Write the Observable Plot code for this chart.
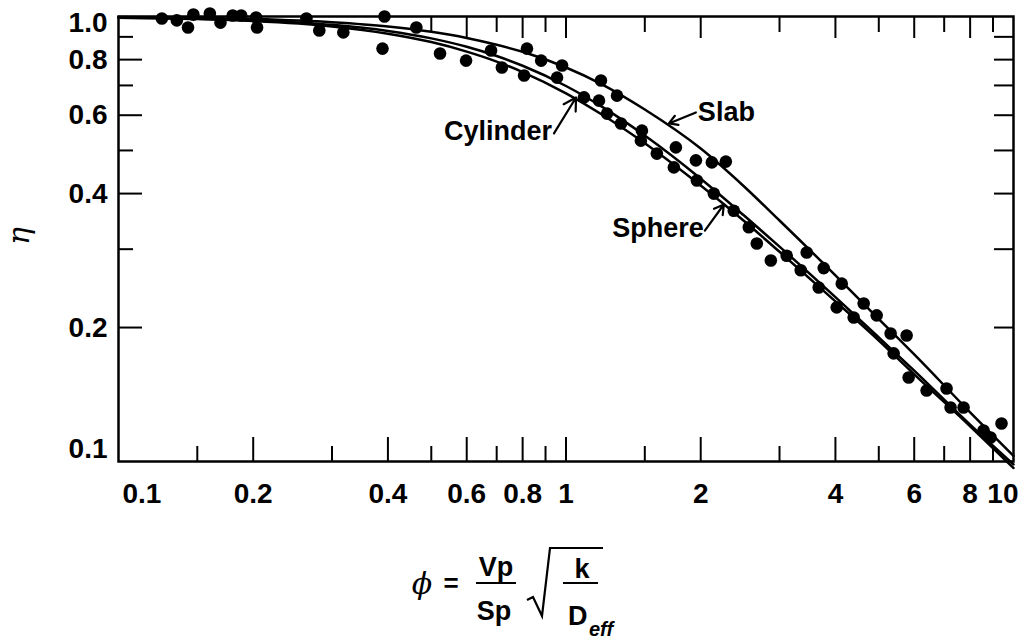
<!DOCTYPE html>
<html><head><meta charset="utf-8">
<script src="https://cdn.jsdelivr.net/npm/d3@7"></script>
<script src="https://cdn.jsdelivr.net/npm/@observablehq/plot@0.6"></script>
<style>
body{margin:0;background:#fff;}
#chart svg{display:block}
</style></head><body><div id="chart"></div>
<script>
// Theoretical effectiveness-factor curves
const phiCurve = [0.1,0.15,0.2,0.3,0.4,0.5,0.6,0.7,0.8,1.0,1.2,1.5,2,2.5,3,4,5,6,8,10];
const etaSlab = [0.997,0.993,0.987,0.971,0.950,0.924,0.895,0.864,0.833,0.768,0.705,0.618,0.505,0.415,0.348,0.262,0.209,0.174,0.129,0.103];
const etaCylinder = [0.995,0.989,0.980,0.958,0.928,0.893,0.855,0.815,0.775,0.698,0.628,0.540,0.432,0.357,0.304,0.234,0.190,0.160,0.121,0.0985];
const etaSphere = [0.994,0.987,0.977,0.950,0.915,0.876,0.834,0.792,0.750,0.672,0.603,0.519,0.417,0.347,0.296,0.229,0.187,0.157,0.120,0.0967];

// Experimental points
const phiObs = [0.125,0.135,0.143,0.147,0.160,0.169,0.180,0.188,0.203,0.204,0.263,0.281,0.318,0.393,0.389,0.463,0.523,0.598,0.680,0.719,0.806,0.818,0.880,0.955,0.980,1.097,1.197,1.185,1.300,1.235,1.327,1.478,1.470,1.596,1.742,1.760,1.951,1.961,2.140,2.118,2.276,2.371,2.562,2.669,2.869,3.113,3.451,3.347,3.766,3.670,4.132,4.027,4.626,4.394,4.946,5.314,5.770,5.397,5.830,6.395,7.086,7.234,7.734,8.571,9.402,8.887];
const etaObs = [0.990,0.980,0.945,1.010,1.016,0.969,1.005,1.005,0.995,0.945,0.990,0.930,0.921,1.000,0.847,0.945,0.826,0.796,0.839,0.768,0.737,0.847,0.796,0.729,0.776,0.658,0.718,0.647,0.664,0.605,0.575,0.554,0.526,0.492,0.458,0.508,0.475,0.428,0.400,0.470,0.472,0.366,0.336,0.309,0.283,0.290,0.295,0.269,0.272,0.246,0.251,0.222,0.2265,0.2107,0.2130,0.194,0.192,0.175,0.1545,0.1444,0.1459,0.1322,0.1322,0.1174,0.1217,0.1132];

// Ticks and tick labels
const xLabelTicks = [0.1,0.2,0.4,0.6,0.8,1,2,4,6,8,10];
const xLabels = ["0.1","0.2","0.4","0.6","0.8","1","2","4","6","8","10"];
const xMajorTicks = [0.2,0.4,0.6,0.8,1,2,4,6,8];
const xMinorTicks = [0.15,0.3,0.5,0.7,0.9,1.5,3,5,7,9];
const yLabelTicks = [0.1,0.2,0.4,0.6,0.8,1.0];
const yLabels = ["0.1","0.2","0.4","0.6","0.8","1.0"];
const yMajorTicks = [0.2,0.4,0.6,0.8];
const yMinorTicks = [0.3,0.5,0.7,0.9];

// Curve annotations
const annoNames = ["Slab","Cylinder","Sphere"];
const annoX = [1.971,0.931,2.033];
const annoY = [0.6085,0.5515,0.334];
const arrowX1 = [1.951,0.940,2.043];
const arrowY1 = [0.6085,0.546,0.3304];
const arrowX2 = [1.698,1.053,2.253];
const arrowY2 = [0.575,0.6576,0.378];

const curves = [];
phiCurve.forEach((p,i)=>{
  curves.push({phi:p, eta:etaSlab[i], shape:"Slab"});
  curves.push({phi:p, eta:etaCylinder[i], shape:"Cylinder"});
  curves.push({phi:p, eta:etaSphere[i], shape:"Sphere"});
});
const obs = phiObs.map((p,i)=>({phi:p, eta:etaObs[i]}));
const annos = annoNames.map((n,i)=>({name:n, x:annoX[i], y:annoY[i], x1:arrowX1[i], y1:arrowY1[i], x2:arrowX2[i], y2:arrowY2[i]}));
const xLab = d => xLabels[xLabelTicks.indexOf(d)];
const yLab = d => yLabels[yLabelTicks.indexOf(d)];
const blank = () => "";
const first = a => [a[0]];
const last = a => [a[a.length - 1]];
const mid = a => a.slice(1, -1);

const chart = Plot.plot({
  width: 1024, height: 520,
  marginLeft: 118, marginRight: 11, marginTop: 16, marginBottom: 59,
  x: {type: "log", domain: [0.1, 10]},
  y: {type: "log", domain: [0.1, 1]},
  style: {fontFamily: "'Liberation Sans', Arial, sans-serif", fontSize: "27px", fontWeight: "bold", color: "black", background: "white", overflow: "visible"},
  marks: [
    // tick marks (inward)
    Plot.axisX(xMajorTicks, {anchor: "bottom", tickSize: -24, tickFormat: blank, strokeWidth: 2, label: null}),
    Plot.axisX(xMinorTicks, {anchor: "bottom", tickSize: -15, tickFormat: blank, strokeWidth: 2, label: null}),
    Plot.axisX(xMajorTicks.filter(d => d >= 0.6), {anchor: "top", tickSize: -21, tickFormat: blank, strokeWidth: 2, label: null}),
    Plot.axisX(xMinorTicks.filter(d => d >= 0.5), {anchor: "top", tickSize: -15, tickFormat: blank, strokeWidth: 2, label: null}),
    Plot.axisY(yMajorTicks, {anchor: "left", tickSize: -24, tickFormat: blank, strokeWidth: 2, label: null}),
    Plot.axisY(yMinorTicks, {anchor: "left", tickSize: -15, tickFormat: blank, strokeWidth: 2, label: null}),
    Plot.axisY(yMajorTicks.concat(yMinorTicks), {anchor: "right", tickSize: -20, tickFormat: blank, strokeWidth: 2, label: null}),
    // tick labels
    Plot.text(mid(xLabelTicks), {x: d => d, text: xLab, frameAnchor: "bottom", lineAnchor: "top", dy: 22, fontSize: 28}),
    Plot.text(first(xLabelTicks), {x: d => d, text: xLab, frameAnchor: "bottom", lineAnchor: "top", dy: 22, dx: 4, textAnchor: "start", fontSize: 28}),
    Plot.text(last(xLabelTicks), {x: d => d, text: xLab, frameAnchor: "bottom", lineAnchor: "top", dy: 22, dx: 5, textAnchor: "end", fontSize: 28}),
    Plot.text(mid(yLabelTicks), {y: d => d, text: yLab, frameAnchor: "left", textAnchor: "end", dx: -11, fontSize: 28}),
    Plot.text(first(yLabelTicks), {y: d => d, text: yLab, frameAnchor: "left", textAnchor: "end", dx: -11, dy: -12, fontSize: 28}),
    Plot.text(last(yLabelTicks), {y: d => d, text: yLab, frameAnchor: "left", textAnchor: "end", dx: -11, dy: 7, fontSize: 28}),
    Plot.text(["η"], {text: d => d, frameAnchor: "left", dx: -99, dy: 6, rotate: -90, fontStyle: "italic", fontFamily: "'DejaVu Serif', serif", fontSize: 30, fontWeight: "normal"}),
    // curves
    Plot.line(curves, {x: "phi", y: "eta", z: "shape", stroke: "black", strokeWidth: 2.5, curve: "monotone-x"}),
    // data points
    Plot.dot(obs, {x: "phi", y: "eta", r: 6.3, fill: "black", stroke: null}),
    // annotations
    Plot.arrow(annos, {x1: "x1", y1: "y1", x2: "x2", y2: "y2", stroke: "black", strokeWidth: 2.2, headLength: 10}),
    Plot.text(annos.filter(d => d.name === "Slab"), {x: "x", y: "y", text: "name", textAnchor: "start"}),
    Plot.text(annos.filter(d => d.name !== "Slab"), {x: "x", y: "y", text: "name", textAnchor: "end"}),
    Plot.frame({stroke: "black", strokeWidth: 2.5})
  ]
});
document.getElementById("chart").append(chart);

// x-axis label: phi = Vp/Sp * sqrt(k/D_eff)
const ns = "http://www.w3.org/2000/svg";
const cap = document.createElementNS(ns, "svg");
cap.setAttribute("width", 1024); cap.setAttribute("height", 121);
cap.style.display = "block";
cap.innerHTML = `
<g font-family="'Liberation Sans', Arial, sans-serif" font-weight="bold" fill="black">
  <text x="422" y="74" text-anchor="middle" font-family="'DejaVu Serif', serif" font-style="italic" font-weight="normal" font-size="30">ϕ</text>
  <text x="451" y="72" text-anchor="middle" font-size="26">=</text>
  <text x="496" y="56" text-anchor="middle" font-size="27">Vp</text>
  <line x1="476" x2="516" y1="63" y2="63" stroke="black" stroke-width="2"/>
  <text x="494" y="100" text-anchor="middle" font-size="27">Sp</text>
  <path d="M527 80 L533 77 L542 96 L550 28 L603 28" fill="none" stroke="black" stroke-width="2.2"/>
  <text x="582" y="58" text-anchor="middle" font-size="27">k</text>
  <line x1="563" x2="598" y1="63" y2="63" stroke="black" stroke-width="2"/>
  <text x="568" y="105" font-size="27">D</text>
  <text x="589" y="116" font-size="20" font-style="italic">eff</text>
</g>`;
document.body.append(cap);
</script>
</body></html>
